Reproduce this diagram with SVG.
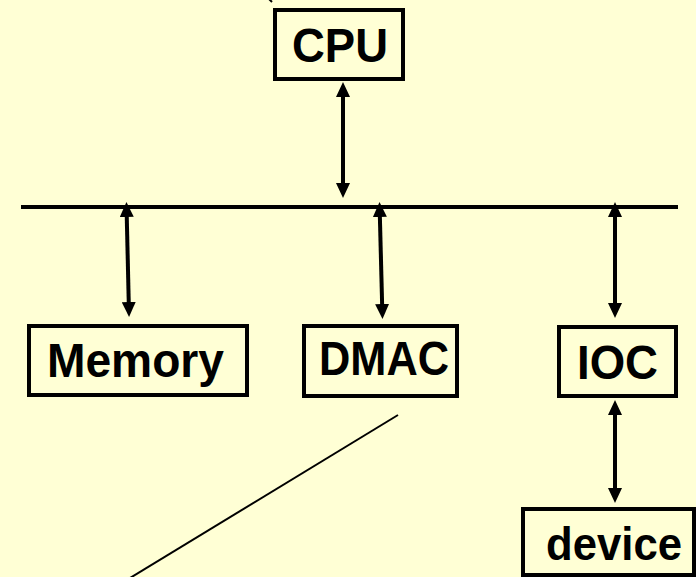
<svg xmlns="http://www.w3.org/2000/svg" width="696" height="577" viewBox="0 0 696 577">
<defs>
<style>
.box{fill:none;stroke:#000;stroke-width:4}
.lbl{font-family:"Liberation Sans",Arial,sans-serif;font-weight:bold;font-size:49px;fill:#000;text-anchor:middle}
.conn{stroke:#000;stroke-width:4;fill:none}
.thin{stroke:#000;stroke-width:2;fill:none}
</style>
<marker id="ah" viewBox="0 0 15 14" refX="7" refY="7" markerWidth="15" markerHeight="14" markerUnits="userSpaceOnUse" orient="auto-start-reverse">
<path d="M0,0 L15,7 L0,14 z" fill="#000"/>
</marker>
</defs>
<rect x="0" y="0" width="696" height="577" fill="#FFFFD5"/>
<g id="connectors">
<line class="thin" x1="268" y1="-2" x2="272" y2="2"/>
<line class="conn" x1="21" y1="207" x2="678" y2="207" stroke-width="5"/>
<line class="conn" x1="343" y1="90" x2="343" y2="190" marker-start="url(#ah)" marker-end="url(#ah)"/>
<line class="conn" x1="126.6" y1="210" x2="128.9" y2="309" marker-start="url(#ah)" marker-end="url(#ah)"/>
<line class="conn" x1="379.7" y1="210" x2="382.3" y2="311" marker-start="url(#ah)" marker-end="url(#ah)"/>
<line class="conn" x1="615" y1="210" x2="615" y2="310" marker-start="url(#ah)" marker-end="url(#ah)"/>
<line class="conn" x1="615" y1="408" x2="615" y2="495" marker-start="url(#ah)" marker-end="url(#ah)"/>
<line class="thin" x1="398" y1="415" x2="130" y2="578"/>
</g>
<g id="cpu">
<rect class="box" x="275" y="10" width="128" height="69"/>
<text class="lbl" x="340" y="62" textLength="96" lengthAdjust="spacingAndGlyphs">CPU</text>
</g>
<g id="memory">
<rect class="box" x="29" y="326" width="218" height="69"/>
<text class="lbl" x="135.5" y="377" textLength="177" lengthAdjust="spacingAndGlyphs">Memory</text>
</g>
<g id="dmac">
<rect class="box" x="304" y="326" width="153" height="70"/>
<text class="lbl" x="384" y="375" textLength="130" lengthAdjust="spacingAndGlyphs">DMAC</text>
</g>
<g id="ioc">
<rect class="box" x="559" y="327" width="117" height="69"/>
<text class="lbl" x="617.5" y="379" textLength="81" lengthAdjust="spacingAndGlyphs">IOC</text>
</g>
<g id="device">
<rect class="box" x="523" y="509" width="171" height="66"/>
<text class="lbl" x="614" y="560" style="font-size:46px" textLength="136" lengthAdjust="spacingAndGlyphs">device</text>
</g>
</svg>
